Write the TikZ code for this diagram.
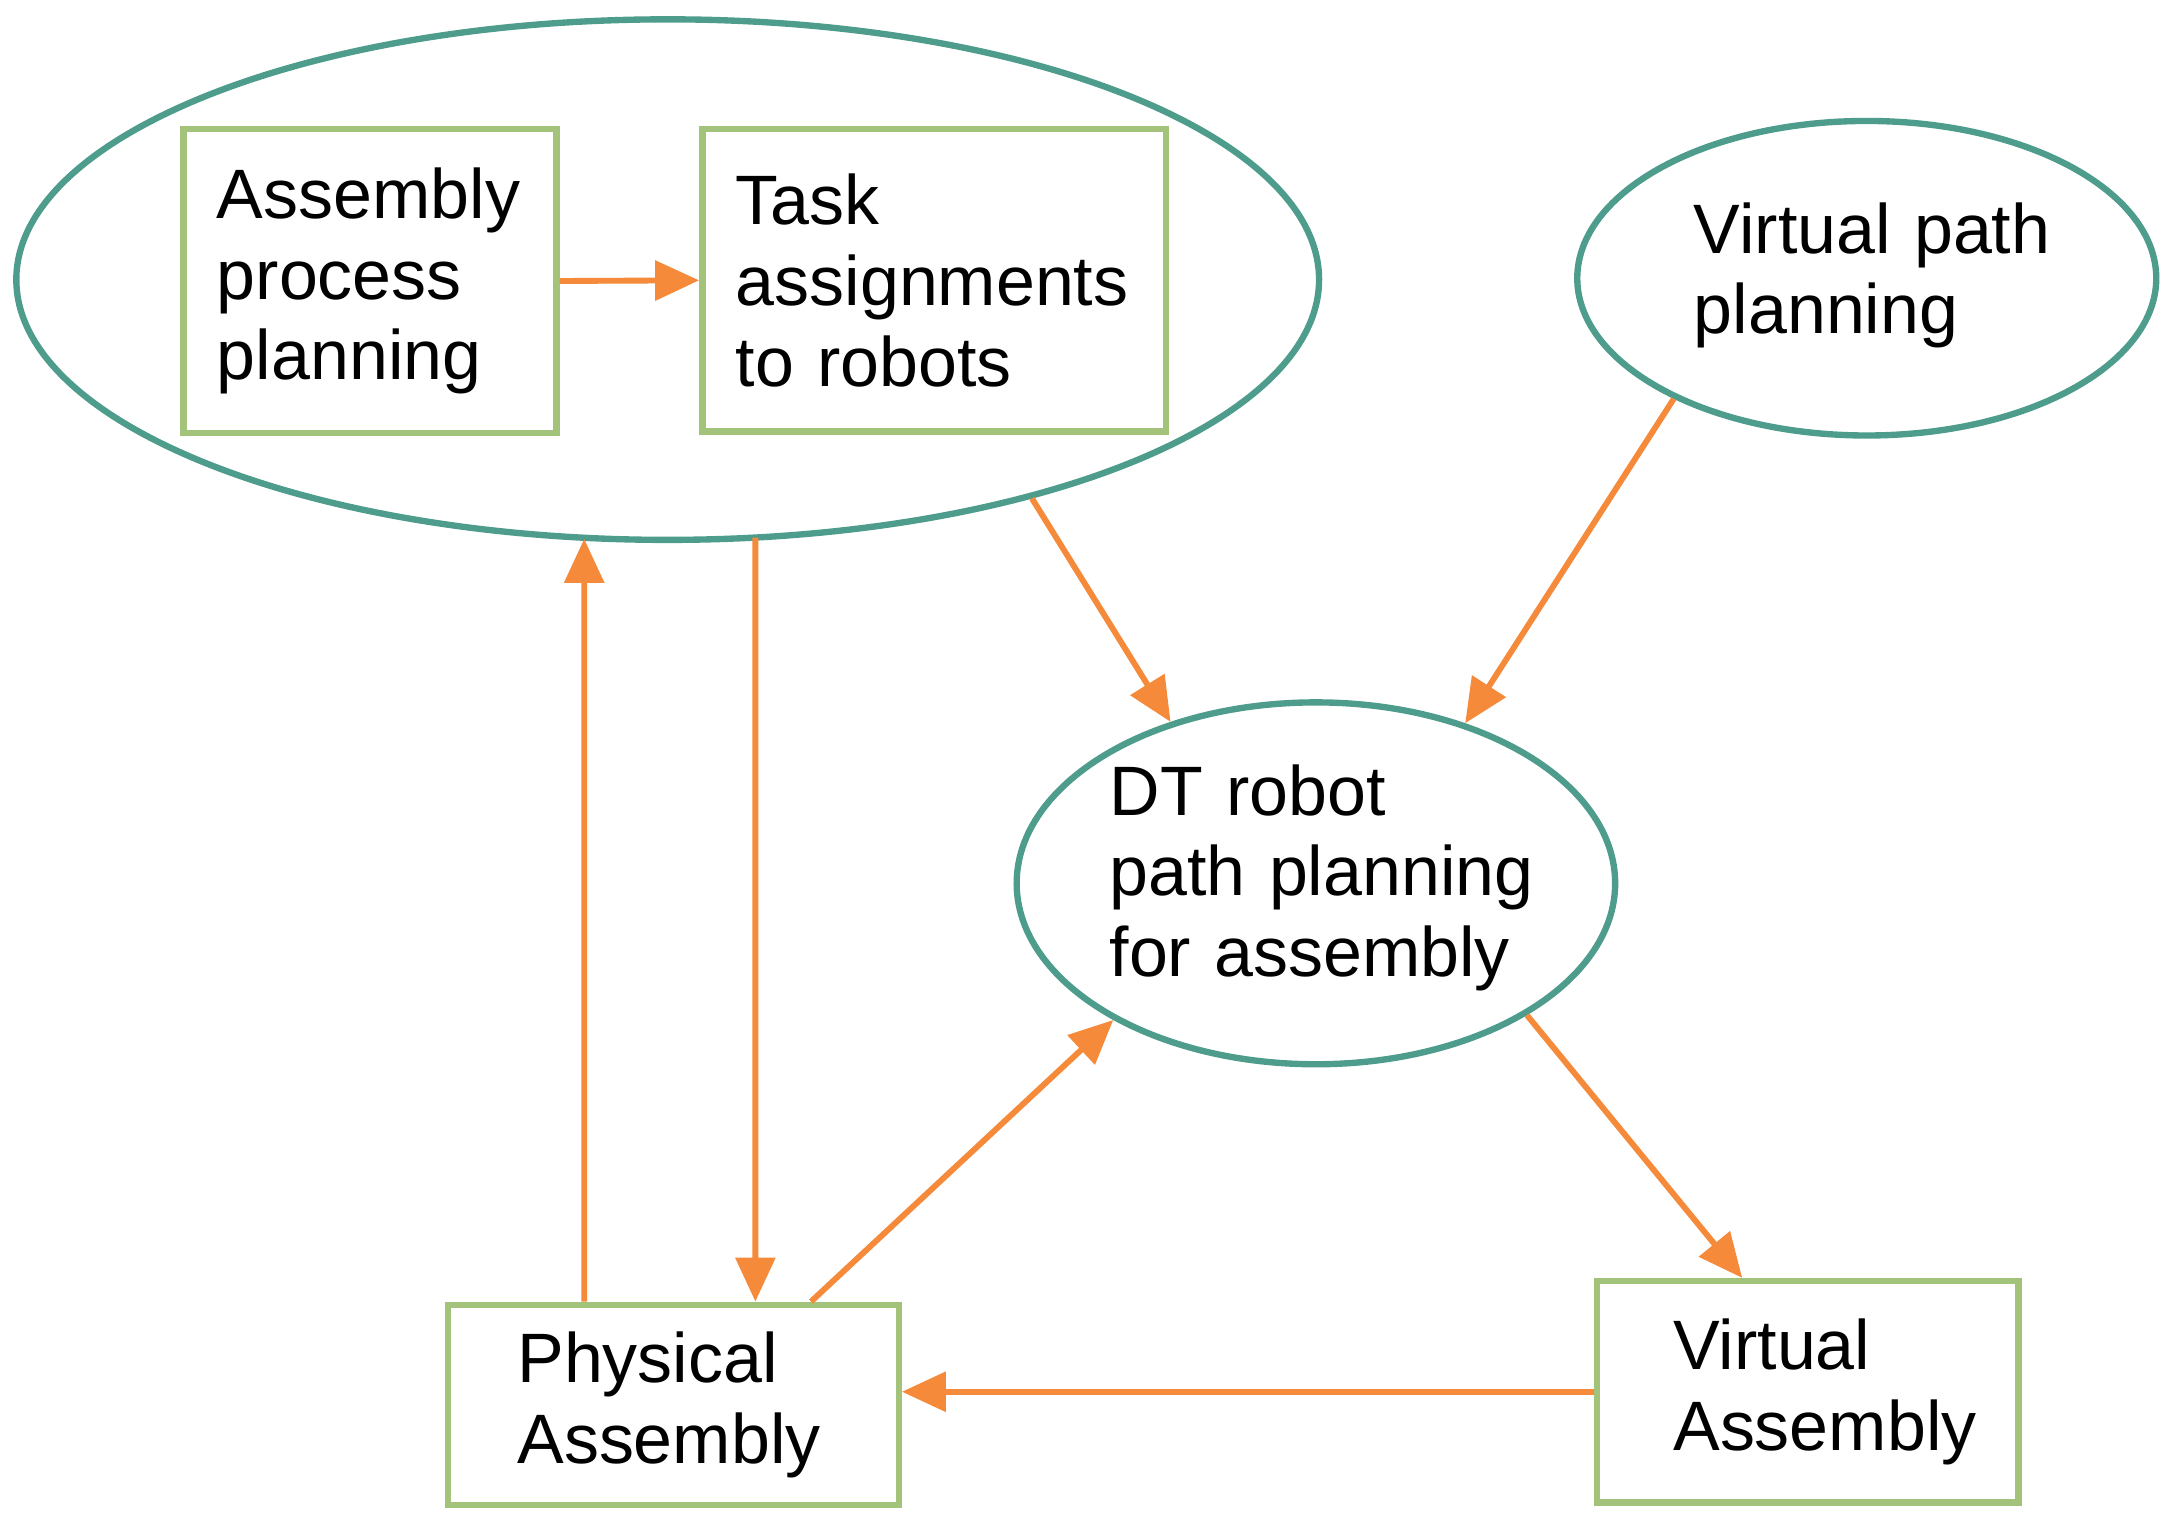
\documentclass[tikz,border=0pt]{standalone}
\usepackage{fontspec}
\setmainfont{Liberation Sans}
\usetikzlibrary{shapes.geometric,arrows.meta}
\definecolor{arr}{HTML}{F58A3A}
\definecolor{boxg}{HTML}{A3C27A}
\definecolor{ell}{HTML}{4E9C8C}
\begin{document}
\begin{tikzpicture}[x=0.01cm,y=-0.01cm,
  every node/.style={font=\fontsize{14.3}{16.5}\selectfont},
  box/.style={draw=boxg,line width=1.3pt,inner sep=0pt,text width=#1,align=left},
  el/.style={draw=ell,line width=1.3pt,ellipse,inner sep=0pt},
  lbl/.style={text width=#1,align=left,inner sep=0pt},
  a/.style={draw=arr,line width=1.2pt,-{Triangle[length=9pt,width=8pt]}}]
\useasboundingbox (0,0) rectangle (1560,1096);
\node[el,minimum width=9.36cm,minimum height=3.74cm] (big) at (480,201) {};
\node[box=2.68cm,minimum width=2.68cm,minimum height=2.18cm] (apm) at (266,202)
  {\hspace*{0.24cm}\parbox{2.4cm}{Assembly\\process\\planning}};
\node[box=3.33cm,minimum width=3.33cm,minimum height=2.17cm] (task) at (671.5,201.5)
  {\hspace*{0.24cm}\parbox{3cm}{Task\\assignments\\to robots}};
\node[el,minimum width=4.16cm,minimum height=2.26cm] (vp) at (1342,200) {};
\node[lbl=2.7cm,anchor=west] (vpt) at (1217,198) {Virtual path\\planning};
\node[el,minimum width=4.3cm,minimum height=2.6cm] (dt) at (946,635) {};
\node[lbl=3.3cm,anchor=west] (dtt) at (797,631) {DT robot\\path planning\\for assembly};
\node[box=3.24cm,minimum width=3.24cm,minimum height=1.44cm] (phys) at (484,1010)
  {\hspace*{0.5cm}\parbox{2.7cm}{Physical\\Assembly}};
\node[box=3.03cm,minimum width=3.03cm,minimum height=1.59cm] (va) at (1299.5,1000.5)
  {\hspace*{0.55cm}\parbox{2.4cm}{Virtual\\Assembly}};
\draw[a] (apm.east) -- (task.west);
\draw[a] (big.-31) -- (dt.132);
\draw[a] (vp.212) -- (dt.47);
\draw[a] ([xshift=-0.64cm]phys.north) -- ([xshift=-0.6cm,yshift=0.03cm]big.south);
\draw[a] ([xshift=0.63cm,yshift=0.04cm]big.south) -- ([xshift=0.59cm]phys.north);
\draw[a] ([xshift=0.99cm]phys.north) -- (dt.214);
\draw[a] (dt.-32) -- ([xshift=-0.47cm]va.north);
\draw[a] (va.west) -- (va.west -| phys.east);
\end{tikzpicture}
\end{document}
